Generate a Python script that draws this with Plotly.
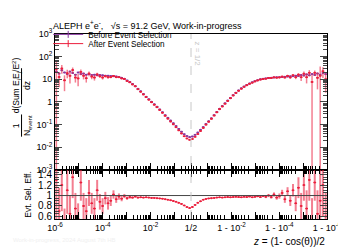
import numpy as np
import plotly.graph_objects as go

# ---------------- data ----------------
N_BINS = 50
before_left = [22, 18, 25, 20, 17, 22, 19, 16, 20, 17, 18, 16, 17, 15.5, 16, 15, 15.5, 15, 14.5, 14.5,
               14, 13.8, 13.4, 12.6, 11.7, 10.5, 8.9, 7.6, 6.2, 5.0, 3.8, 2.95, 2.24, 1.70, 1.32, 1.02,
               0.79, 0.62, 0.47, 0.355, 0.263, 0.20, 0.151, 0.115, 0.087, 0.065, 0.049, 0.038, 0.0316, 0.0282]
ratio_left = [1.30, 0.70, 1.20, 0.45, 1.10, 0.65, 1.35, 0.75, 0.55, 1.25, 0.80, 0.70, 1.05, 0.85, 0.75,
              1.10, 0.88, 0.80, 0.95, 0.85, 0.90, 1.02, 0.93, 0.98, 0.94, 0.99, 0.95, 0.97, 0.96, 0.98,
              0.96, 0.965, 0.96, 0.965, 0.96, 0.955, 0.955, 0.95, 0.945, 0.94, 0.93, 0.92, 0.91, 0.895,
              0.88, 0.86, 0.84, 0.81, 0.78, 0.76]
ratio_err_left = [1.4, 0.45, 0.5, 0.3, 0.45, 0.35, 0.4, 0.3, 0.3, 0.35,
                  0.25, 0.25, 0.25, 0.2, 0.2, 0.2, 0.15, 0.15, 0.12, 0.12,
                  0.1, 0.08, 0.07, 0.06, 0.05, 0.04, 0.03, 0.03, 0.02, 0.02,
                  0.015, 0.012, 0.01, 0.01, 0.01, 0.008, 0.008, 0.008, 0.008, 0.008,
                  0.008, 0.008, 0.008, 0.008, 0.008, 0.008, 0.008, 0.008, 0.008, 0.008]
before_right = [0.030, 0.0355, 0.0447, 0.059, 0.078, 0.107, 0.141, 0.19, 0.263, 0.363,
                0.50, 0.66, 0.87, 1.15, 1.51, 2.0, 2.57, 3.24, 4.0, 4.8,
                5.6, 6.5, 7.4, 8.3, 9.1, 10.0, 10.5, 11.0, 11.5, 11.7,
                12.0, 12.3, 12.3, 12.6, 12.9, 13.2, 13.5, 13.8, 14.5, 14.0,
                15.5, 14.8, 16.5, 15.0, 17.0, 15.5, 18.0, 16.0, 19.0, 17.0]
ratio_right = [0.78, 0.82, 0.86, 0.89, 0.92, 0.935, 0.945, 0.95, 0.955, 0.96,
               0.965, 0.96, 0.965, 0.97, 0.965, 0.97, 0.975, 0.97, 0.965, 0.975,
               0.97, 0.98, 0.965, 0.975, 0.985, 0.97, 0.99, 0.975, 1.0, 0.97,
               1.02, 0.96, 0.99, 1.05, 0.93, 1.08, 0.9, 1.1, 0.85, 1.15,
               0.8, 1.2, 0.75, 1.3, 0.45, 1.25, 0.65, 0.9, 1.2, 0.6]
ratio_err_right = [0.008] * 20 + [0.01, 0.01, 0.012, 0.012, 0.015, 0.015, 0.02, 0.025, 0.03, 0.03,
                                  0.04, 0.04, 0.05, 0.06, 0.07, 0.08, 0.1, 0.12, 0.15, 0.2,
                                  0.25, 0.3, 0.35, 0.4, 0.5, 0.35, 0.45, 1.4, 0.6, 0.45]

major_z_left = [1e-6, 1e-5, 1e-4, 1e-3, 1e-2, 1e-1]
major_1mz_right = [1e-1, 1e-2, 1e-3, 1e-4, 1e-5, 1e-6]
labels_left = {1e-6: "10<sup>-6</sup>", 1e-4: "10<sup>-4</sup>", 1e-2: "10<sup>-2</sup>"}
labels_right = {1e-2: "1 - 10<sup>-2</sup>", 1e-4: "1 - 10<sup>-4</sup>", 1e-6: "1 - 10<sup>-6</sup>"}

PURPLE = "rgb(135,55,160)"
RED = "rgb(235,30,60)"
RED_ERR = "rgba(235,40,70,0.6)"
FONT = "Liberation Sans, Arial, sans-serif"

HALF = np.log10(0.5)


def t_left(z):
    return np.log10(z)


def t_right(one_minus_z):
    return 2 * HALF - np.log10(one_minus_z)


zl_edges = np.logspace(-6, HALF, N_BINS + 1)
zr_edges = np.logspace(HALF, -6, N_BINS + 1)
tl_edges = t_left(zl_edges)
tr_edges = t_right(zr_edges)
t_bins = np.concatenate([0.5 * (tl_edges[:-1] + tl_edges[1:]), 0.5 * (tr_edges[:-1] + tr_edges[1:])])
half_w = np.concatenate([0.5 * np.diff(tl_edges), 0.5 * np.diff(tr_edges)])

before = np.array(before_left + before_right)
ratio = np.array(ratio_left + ratio_right)
ratio_err = np.array(ratio_err_left + ratio_err_right)
after = before * ratio
after_err = before * ratio_err

X_MIN, X_MAX = t_left(1e-6), t_right(1e-6)

major_t = [t_left(z) for z in major_z_left] + [HALF] + [t_right(v) for v in major_1mz_right]
major_txt = [labels_left.get(z, "") for z in major_z_left] + ["1/2"] + [labels_right.get(v, "") for v in major_1mz_right]
minor_t = []
for d in range(-6, 0):
    for m in range(2, 10):
        v = m * 10.0 ** d
        if v < 0.5:
            minor_t.append(t_left(v))
            minor_t.append(t_right(v))

ymin_vals = [m * 10.0 ** d for d in range(-3, 3) for m in range(2, 10)]

fig = go.Figure()
fig.add_trace(go.Scatter(
    x=t_bins, y=before, mode="markers", showlegend=False,
    marker=dict(color=PURPLE, size=2),
    error_x=dict(type="data", array=half_w, color=PURPLE, thickness=1.5, width=0),
    xaxis="x", yaxis="y"))
fig.add_trace(go.Scatter(
    x=t_bins, y=after, mode="markers", showlegend=False,
    marker=dict(color=RED, size=2),
    error_x=dict(type="data", array=half_w, color=RED, thickness=1.5, width=0),
    error_y=dict(type="data", array=after_err, color=RED_ERR, thickness=1.5, width=0),
    xaxis="x", yaxis="y"))
fig.add_trace(go.Scatter(
    x=t_bins, y=ratio, mode="markers", showlegend=False,
    marker=dict(color=RED, size=2),
    error_x=dict(type="data", array=half_w, color=RED, thickness=1.2, width=0),
    error_y=dict(type="data", array=ratio_err, color=RED_ERR, thickness=2, width=0),
    xaxis="x2", yaxis="y2"))
fig.add_trace(go.Scatter(x=[None], y=[None], mode="lines+markers", name="Before Event Selection",
                         legend="legend",
                         line=dict(color=PURPLE, width=1), marker=dict(color=PURPLE, size=5, symbol="line-ns-open",
                                                                       line=dict(color=PURPLE, width=1))))
fig.add_trace(go.Scatter(x=[None], y=[None], mode="lines+markers", name="After Event Selection",
                         legend="legend2",
                         line=dict(color=RED, width=1), marker=dict(color=RED, size=5, symbol="line-ns-open",
                                                                    line=dict(color=RED, width=1))))

xcommon = dict(range=[X_MIN, X_MAX], tickmode="array", tickvals=major_t, ticks="inside", ticklen=7,
               tickcolor="black", showline=True, linecolor="black", linewidth=1,
               showgrid=False, zeroline=False,
               minor=dict(tickmode="array", tickvals=minor_t, ticks="inside", ticklen=4, tickcolor="black"))

leg_common = dict(xanchor="left", yanchor="middle", bgcolor="rgba(0,0,0,0)", font=dict(size=8.2),
                  itemwidth=30, borderwidth=0)

fig.update_layout(
    width=346, height=251,
    margin=dict(l=47, r=23, t=21, b=40),
    paper_bgcolor="white", plot_bgcolor="white",
    font=dict(family=FONT, size=10, color="black"),
    xaxis=dict(**xcommon, anchor="y", showticklabels=False, mirror=True),
    xaxis2=dict(**xcommon, anchor="y2", matches="x", ticktext=major_txt, showticklabels=True,
                mirror="allticks", tickfont=dict(size=9)),
    yaxis=dict(type="log", domain=[0.265, 1], range=[-3, 3], tickmode="array",
               tickvals=[1e-3, 1e-2, 1e-1, 1, 10, 1e2, 1e3],
               ticktext=["10<sup>-3</sup>", "10<sup>-2</sup>", "10<sup>-1</sup>", "1", "10", "10<sup>2</sup>", "10<sup>3</sup>"],
               tickfont=dict(size=9),
               ticks="inside", ticklen=7, showline=True, linecolor="black", mirror="allticks",
               showgrid=False, zeroline=False, anchor="x",
               minor=dict(tickmode="array", tickvals=ymin_vals, ticks="inside", ticklen=4)),
    yaxis2=dict(domain=[0, 0.265], range=[0.55, 1.49], tickmode="array",
                tickvals=[0.6, 0.8, 1.0, 1.2, 1.4], ticktext=["0.6", "0.8", "1", "1.2", "1.4"],
                tickfont=dict(size=10),
                ticks="inside", ticklen=7, showline=True, linecolor="black", mirror="allticks",
                showgrid=False, zeroline=False, anchor="x2",
                minor=dict(dtick=0.05, ticks="inside", ticklen=4),
                title=dict(text="Evt. Sel. Eff.", standoff=5, font=dict(size=8.5))),
    legend=dict(x=-0.025, y=0.998, **leg_common),
    legend2=dict(x=-0.025, y=0.948, **leg_common),
    shapes=[
        dict(type="line", xref="x2", yref="y2", x0=X_MIN, x1=X_MAX, y0=1, y1=1,
             line=dict(color="rgb(70,70,70)", width=1)),
        dict(type="line", xref="x", yref="paper", x0=HALF, x1=HALF, y0=0, y1=1,
             line=dict(color="rgb(200,200,200)", width=1, dash="dash")),
        dict(type="line", xref="paper", yref="paper", x0=-0.123, x1=-0.123, y0=0.445, y1=0.565,
             line=dict(color="black", width=1)),
        dict(type="line", xref="paper", yref="paper", x0=-0.123, x1=-0.123, y0=0.62, y1=0.815,
             line=dict(color="black", width=1)),
    ],
    annotations=[
        dict(text="ALEPH e<sup>+</sup>e<sup>-</sup>,   √s = 91.2 GeV, Work-in-progress", xref="paper", yref="paper",
             x=-0.014, y=1.0, xanchor="left", yanchor="bottom", showarrow=False, font=dict(size=9), yshift=1),
        dict(text="z = 1/2", xref="x", yref="paper", x=HALF, y=0.97, xanchor="left", yanchor="top",
             textangle=90, showarrow=False, font=dict(size=8, color="rgb(200,200,200)"), xshift=0),
        dict(text="<i>z</i> = (1- cos(θ))/2", xref="paper", yref="paper", x=1.0, y=0, xanchor="right",
             yanchor="top", yshift=-15, showarrow=False, font=dict(size=10)),
        dict(text="1<br>N<sub>event</sub>", xref="paper", yref="paper", x=-0.123, y=0.505, xanchor="center",
             yanchor="middle", textangle=-90, showarrow=False, font=dict(size=8.5)),
        dict(text="d(Sum E<sub>i</sub>E<sub>j</sub>/E<sup>2</sup>)<br>dz", xref="paper", yref="paper", x=-0.123,
             y=0.72, xanchor="center", yanchor="middle", textangle=-90, showarrow=False, font=dict(size=8.5)),
        dict(text="Work-in-progress, 2024 August 7th HB", xref="paper", yref="paper", x=-0.16, y=0,
             xanchor="left", yanchor="top", yshift=-16, showarrow=False,
             font=dict(size=6, color="rgb(240,240,240)")),
    ],
)

fig.write_html("out.html")
